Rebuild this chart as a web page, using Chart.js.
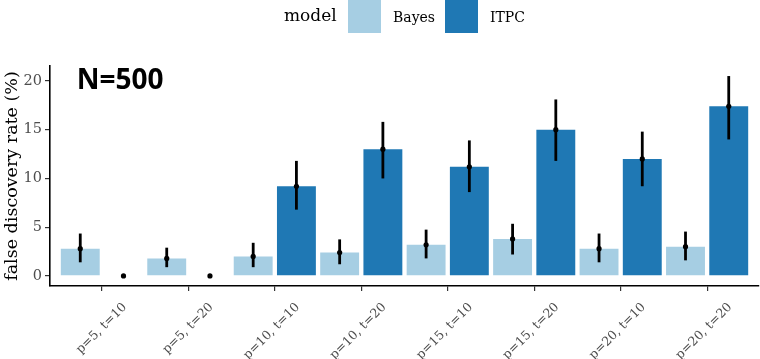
<!DOCTYPE html>
<html>
<head>
<meta charset="utf-8">
<script src="https://cdn.jsdelivr.net/npm/chart.js@4"></script>
<style>
  html, body { margin: 0; padding: 0; background: #ffffff; }
  #wrap { width: 760px; height: 359px; position: relative; }
</style>
</head>
<body>
<div id="wrap"><canvas id="c" width="760" height="359"></canvas></div>
<script>
// ---- data ----
const categories = ["p=5, t=10", "p=5, t=20", "p=10, t=10", "p=10, t=20",
                    "p=15, t=10", "p=15, t=20", "p=20, t=10", "p=20, t=20"];
const seriesNames = ["Bayes", "ITPC"];
const bayesMean  = [2.8, 1.8, 2.0, 2.4, 3.2, 3.8, 2.8, 3.0];
const bayesLower = [1.4, 0.9, 0.9, 1.2, 1.8, 2.2, 1.4, 1.6];
const bayesUpper = [4.35, 2.9, 3.4, 3.75, 4.75, 5.35, 4.35, 4.55];
const itpcMean   = [0, 0, 9.2, 13.0, 11.2, 15.0, 12.0, 17.4];
const itpcLower  = [0, 0, 6.8, 10.0, 8.6, 11.8, 9.2, 14.0];
const itpcUpper  = [0, 0, 11.8, 15.8, 13.9, 18.1, 14.8, 20.5];
const yTicks = [0, 5, 10, 15, 20];
const legendTitle = "model";
const yTitle = "false discovery rate (%)";
const annotationText = "N=500";

const colors = ["#a6cee3", "#1f78b4"];
const serif = "'DejaVu Serif', serif";

function toPoints(vals) { return vals.map((v, i) => ({ x: i + 1, y: v })); }

const errorBars = {
  id: 'errorBars',
  afterDatasetsDraw(chart) {
    const ctx = chart.ctx;
    const ys = chart.scales.y;
    const lows = [bayesLower, itpcLower];
    const highs = [bayesUpper, itpcUpper];
    const means = [bayesMean, itpcMean];
    ctx.save();
    for (let d = 0; d < 2; d++) {
      const meta = chart.getDatasetMeta(d);
      meta.data.forEach((bar, i) => {
        const x = bar.x;
        if (highs[d][i] > lows[d][i]) {
          ctx.beginPath();
          ctx.strokeStyle = '#000';
          ctx.lineWidth = 2.8;
          ctx.moveTo(x, ys.getPixelForValue(highs[d][i]));
          ctx.lineTo(x, ys.getPixelForValue(lows[d][i]));
          ctx.stroke();
        }
        ctx.beginPath();
        ctx.fillStyle = '#000';
        ctx.arc(x, ys.getPixelForValue(means[d][i]), 2.6, 0, Math.PI * 2);
        ctx.fill();
      });
    }
    // annotation
    const xs = chart.scales.x;
    ctx.font = "bold 28px 'Noto Sans', sans-serif";
    ctx.fillStyle = '#000';
    ctx.textAlign = 'left';
    ctx.textBaseline = 'alphabetic';
    ctx.fillText(annotationText, xs.getPixelForValue(0.71), ys.getPixelForValue(19.15));
    ctx.restore();
  }
};

const topLegend = {
  id: 'topLegend',
  afterDraw(chart) {
    const ctx = chart.ctx;
    ctx.save();
    ctx.textBaseline = 'middle';
    ctx.textAlign = 'left';
    ctx.fillStyle = '#000';
    ctx.font = "17px " + serif;
    ctx.fillText(legendTitle, 284, 17);
    const boxes = [348, 445];
    const labelsX = [393, 490];
    for (let k = 0; k < 2; k++) {
      ctx.fillStyle = colors[k];
      ctx.fillRect(boxes[k], 0, 33, 33);
      ctx.fillStyle = '#000';
      ctx.font = "14px " + serif;
      ctx.fillText(seriesNames[k], labelsX[k], 18);
    }
    ctx.restore();
  }
};

new Chart(document.getElementById('c'), {
  type: 'bar',
  data: {
    datasets: [
      { label: seriesNames[0], data: toPoints(bayesMean), backgroundColor: colors[0], borderWidth: 0 },
      { label: seriesNames[1], data: toPoints(itpcMean), backgroundColor: colors[1], borderWidth: 0 }
    ]
  },
  options: {
    responsive: false,
    animation: false,
    devicePixelRatio: 1,
    layout: { padding: { top: 66, right: 1, left: 0, bottom: 0 } },
    datasets: { bar: { barPercentage: 0.9, categoryPercentage: 1.0 } },
    plugins: { legend: { display: false }, tooltip: { enabled: false } },
    scales: {
      x: {
        type: 'linear',
        offset: false,
        min: 0.4, max: 8.6,
        afterBuildTicks(scale) { scale.ticks = categories.map((c, i) => ({ value: i + 1 })); },
        afterFit(scale) { scale.height = 73; },
        grid: { display: true, offset: false, drawOnChartArea: false, drawTicks: true, tickLength: 5, color: '#333', lineWidth: 1.2 },
        border: { display: true, color: '#000', width: 1.6 },
        ticks: {
          autoSkip: false,
          minRotation: 45, maxRotation: 45,
          labelOffset: 23,
          padding: 9,
          color: '#4d4d4d',
          font: { family: serif, size: 12.5 },
          callback(v) { return categories[Math.round(v) - 1]; }
        }
      },
      y: {
        min: -1.03, max: 21.53,
        afterBuildTicks(scale) { scale.ticks = yTicks.map(v => ({ value: v })); },
        afterFit(scale) { scale.width = 50; },
        grid: { display: true, drawOnChartArea: false, drawTicks: true, tickLength: 5, color: '#333', lineWidth: 1.2 },
        border: { display: true, color: '#000', width: 1.6 },
        ticks: { padding: 3, color: '#4d4d4d', font: { family: serif, size: 14.5 } },
        title: { display: true, text: yTitle, color: '#000', font: { family: serif, size: 17.5 }, padding: { top: 2, bottom: 0 } }
      }
    }
  },
  plugins: [errorBars, topLegend]
});
</script>
</body>
</html>
